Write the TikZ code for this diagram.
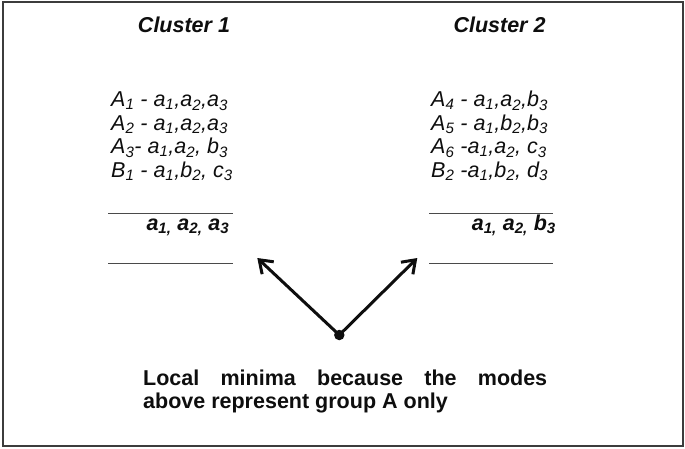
\documentclass[tikz,border=0pt]{standalone}
\usepackage{fontspec}
\setmainfont{Liberation Sans}
\usetikzlibrary{arrows.meta}
\definecolor{clframe}{HTML}{3C3C3C}
\definecolor{clink}  {HTML}{0E0E0E}
\definecolor{clrule} {HTML}{4A4A4A}
\newcommand{\cs}[1]{\textsubscript{#1}}
\newcommand{\clsize}{\fontsize{21.5}{23.5}\selectfont}
\tikzset{
  cltitle/.style={clink, font=\clsize\bfseries\itshape, inner sep=0pt, anchor=base},
  cllist/.style={clink, font=\clsize\itshape, align=left, inner sep=0pt, anchor=base west},
  clmode/.style={clink, font=\clsize\bfseries\itshape, inner sep=0pt, anchor=base east},
  clline/.style={clrule, line width=1.1pt},
  clarrow/.style={clink, line width=3pt, -{Straight Barb[length=12pt, width=17pt]}}
}

\begin{document}
\begin{tikzpicture}[x=1pt, y=-1pt]
  \useasboundingbox (0,0) rectangle (685,448);
  \draw[clframe, line width=2pt] (2.5,1.5) rectangle (682.5,445.5);
  % cluster 1
  \node[cltitle] (title1) at (184,32) {Cluster 1};
  \node[cllist] (list1) at (111,177.2) {%
    A\cs{1} - a\cs{1},a\cs{2},a\cs{3}\\
    A\cs{2} - a\cs{1},a\cs{2},a\cs{3}\\
    A\cs{3}- a\cs{1},a\cs{2}, b\cs{3}\\
    B\cs{1} - a\cs{1},b\cs{2}, c\cs{3}};
  \draw[clline] (108,213.3) -- (232.7,213.3);
  \node[clmode] (mode1) at (229.5,230) {a\cs{1,} a\cs{2,} a\cs{3}};
  \draw[clline] (108,263.3) -- (232.7,263.3);
  % cluster 2
  \node[cltitle] (title2) at (499.5,32) {Cluster 2};
  \node[cllist] (list2) at (431,177.2) {%
    A\cs{4} - a\cs{1},a\cs{2},b\cs{3}\\
    A\cs{5} - a\cs{1},b\cs{2},b\cs{3}\\
    A\cs{6} -a\cs{1},a\cs{2}, c\cs{3}\\
    B\cs{2} -a\cs{1},b\cs{2}, d\cs{3}};
  \draw[clline] (429,213.3) -- (552.7,213.3);
  \node[clmode] (mode2) at (556,230) {a\cs{1,} a\cs{2,} b\cs{3}};
  \draw[clline] (429,263.3) -- (552.7,263.3);
  % local minimum
  \node[clink, circle, fill, inner sep=0pt, minimum size=10.5pt] (minpt) at (339.3,335) {};
  \coordinate (tipL) at (257.3,258);
  \coordinate (tipR) at (417.3,258);
  \draw[clarrow] (minpt.center) -- (tipL);
  \draw[clarrow] (minpt.center) -- (tipR);
  \node[clink, font=\clsize\bfseries, inner sep=0pt, anchor=base west, text width=404pt,
        align=justify] (note) at (143,385)
    {Local minima because the modes\linebreak above represent group A only};
\end{tikzpicture}
\end{document}
